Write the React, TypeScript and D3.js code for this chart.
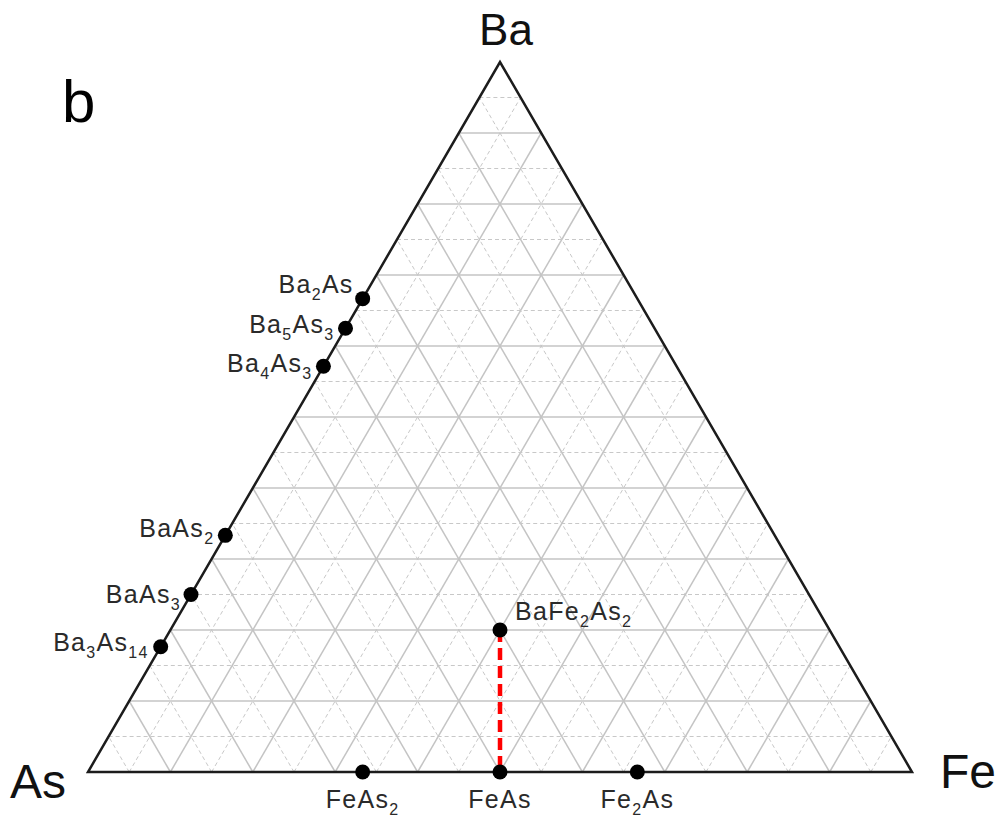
import React, { useEffect, useRef } from 'react'
import * as d3 from 'd3'

// corners of the ternary diagram
const cornerNames = ['As', 'Fe', 'Ba']

// known phases: name, Ba fraction, Fe fraction (As is the rest)
const phaseNames = ['Ba2As', 'Ba5As3', 'Ba4As3', 'BaAs2', 'BaAs3', 'Ba3As14', 'FeAs2', 'FeAs', 'Fe2As', 'BaFe2As2']
const phaseBa = [2 / 3, 5 / 8, 4 / 7, 1 / 3, 1 / 4, 3 / 17, 0, 0, 0, 1 / 5]
const phaseFe = [0, 0, 0, 0, 0, 0, 1 / 3, 1 / 2, 2 / 3, 2 / 5]

// tie line (red dashed)
const tieLine = ['BaFe2As2', 'FeAs']

// grid every 5 %, solid every 10 %
const gridFracs = d3.range(1, 20).map(k => k / 20)

const panelLabel = 'b'

export default function App() {
    const ref = useRef(null)

    useEffect(() => {
        const width = 1002, height = 821
        const root = d3.select(ref.current)
        root.selectAll('*').remove()
        const svg = root.append('svg')
            .attr('width', width)
            .attr('height', height)
            .style('position', 'absolute')
            .style('left', 0)
            .style('top', 0)
            .style('font-family', 'Liberation Sans, Arial, sans-serif')

        // x from (Fe + Ba/2), y from Ba
        const xScale = d3.scaleLinear().domain([0, 1]).range([88, 912])
        const yScale = d3.scaleLinear().domain([0, 1]).range([772, 62])
        const pt = (ba, fe) => [xScale(fe + ba / 2), yScale(ba)]

        const line = d3.line()

        // grid
        const grid = svg.append('g')
        gridFracs.forEach((f, i) => {
            const solid = i % 2 === 1
            const segs = [
                [pt(f, 0), pt(f, 1 - f)],       // constant Ba
                [pt(0, f), pt(1 - f, f)],       // constant Fe
                [pt(0, 1 - f), pt(1 - f, 0)],   // constant As
            ]
            segs.forEach(s => {
                grid.append('path')
                    .attr('d', line(s))
                    .attr('fill', 'none')
                    .attr('stroke', solid ? '#c4c4c4' : '#c8c8c8')
                    .attr('stroke-width', solid ? 1.5 : 1)
                    .attr('stroke-dasharray', solid ? null : '4,3')
            })
        })

        // triangle outline
        const corners = [pt(0, 0), pt(0, 1), pt(1, 0)]
        svg.append('path')
            .attr('d', line(corners) + 'Z')
            .attr('fill', 'none')
            .attr('stroke', '#1c1c1c')
            .attr('stroke-width', 2.5)
            .attr('stroke-linejoin', 'miter')

        // corner labels
        const cornerPos = {
            As: { x: corners[0][0] - 22, y: corners[0][1] + 26, anchor: 'end' },
            Fe: { x: corners[1][0] + 28, y: corners[1][1] + 16, anchor: 'start' },
            Ba: { x: corners[2][0] + 6, y: corners[2][1] - 17, anchor: 'middle' },
        }
        cornerNames.forEach(n => {
            const p = cornerPos[n]
            svg.append('text')
                .attr('x', p.x).attr('y', p.y)
                .attr('text-anchor', p.anchor)
                .attr('font-size', n === 'Ba' ? 44 : 48)
                .attr('fill', '#111')
                .text(n)
        })

        svg.append('text')
            .attr('x', 62).attr('y', 122)
            .attr('font-size', 60)
            .attr('fill', '#000')
            .text(panelLabel)

        // tie line
        const idx = n => phaseNames.indexOf(n)
        const tie = tieLine.map(n => pt(phaseBa[idx(n)], phaseFe[idx(n)]))
        svg.append('path')
            .attr('d', line(tie))
            .attr('stroke', '#ff0000')
            .attr('stroke-width', 4.5)
            .attr('stroke-dasharray', '12,6')

        // phase points
        const phases = phaseNames.map((n, i) => ({ name: n, ba: phaseBa[i], fe: phaseFe[i] }))
        svg.append('g').selectAll('circle')
            .data(phases)
            .join('circle')
            .attr('cx', d => pt(d.ba, d.fe)[0])
            .attr('cy', d => pt(d.ba, d.fe)[1])
            .attr('r', 7.5)
            .attr('fill', '#000')

        // labels with subscripts
        const labelOffset = {
            Ba2As: [-9, -6], Ba5As3: [-11, 5], Ba4As3: [-11, 6],
            BaAs2: [-11, 2], BaAs3: [-10, 8], Ba3As14: [-12, 4],
        }
        phases.forEach(d => {
            const [x, y] = pt(d.ba, d.fe)
            let tx, ty, anchor
            if (d.fe === 0) {
                const o = labelOffset[d.name]
                tx = x + o[0]; ty = y + o[1]; anchor = 'end'
            } else if (d.ba === 0) {
                tx = x; ty = y + 36; anchor = 'middle'
            } else {
                tx = x + 15; ty = y - 10; anchor = 'start'
            }
            const t = svg.append('text')
                .attr('x', tx).attr('y', ty)
                .attr('text-anchor', anchor)
                .attr('font-size', 25)
                .attr('letter-spacing', 1.3)
                .attr('fill', '#2a2a2a')
            const parts = [...d.name.matchAll(/([A-Z][a-z]?)(\d*)/g)]
            let shifted = false
            parts.forEach(m => {
                t.append('tspan').attr('dy', shifted ? -7 : 0).text(m[1])
                shifted = false
                if (m[2]) {
                    t.append('tspan').attr('dy', 7).attr('font-size', 16).text(m[2])
                    shifted = true
                }
            })
        })
    }, [])

    return <div ref={ref}></div>
}
